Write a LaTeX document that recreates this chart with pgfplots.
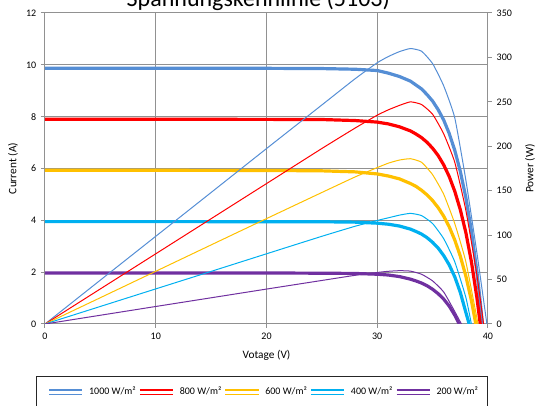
\documentclass[border=0pt]{standalone}
\usepackage{fontspec}
\setmainfont{Carlito}
\usepackage{pgfplots}
\usepackage{pgfplotstable}
\pgfplotsset{compat=1.18}
\definecolor{cB}{RGB}{85,142,213}
\definecolor{cR}{RGB}{255,0,0}
\definecolor{cY}{RGB}{255,192,0}
\definecolor{cC}{RGB}{0,176,240}
\definecolor{cP}{RGB}{112,48,160}
\definecolor{gridc}{RGB}{145,145,145}

% current tables (V, I)
\pgfplotstableread{
V I
0 9.87
10 9.87
20 9.865
25 9.856
28 9.83
30 9.78
31 9.68
32 9.55
33 9.37
33.5 9.22
34 9.07
34.5 8.85
35 8.60
35.5 8.27
36 7.87
36.5 7.35
37 6.70
37.5 5.89
38 4.88
38.5 3.60
39 2.01
39.25 1.06
39.5 0
}\IBlue
\pgfplotstableread{
V I
0 7.90
10 7.90
20 7.895
25 7.89
28 7.85
30 7.79
31 7.72
32 7.61
33 7.45
33.5 7.33
34 7.19
34.5 7.01
35 6.78
35.5 6.50
36 6.14
36.5 5.69
37 5.12
37.5 4.41
38 3.53
38.5 2.41
39 1.01
39.3 0
}\IRed
\pgfplotstableread{
V I
0 5.93
10 5.93
20 5.925
25 5.91
28 5.87
30 5.79
31 5.71
32 5.60
33 5.42
33.5 5.31
34 5.16
34.5 4.98
35 4.76
35.5 4.49
36 4.16
36.5 3.75
37 3.24
37.5 2.62
38 1.85
38.5 0.91
38.9 0
}\IYel
\pgfplotstableread{
V I
0 3.95
10 3.95
20 3.948
25 3.945
28 3.93
30 3.89
31 3.85
32 3.78
33 3.66
33.5 3.57
34 3.47
34.5 3.33
35 3.15
35.5 2.93
36 2.64
36.5 2.28
37 1.82
37.5 1.22
38 0.45
38.3 0
}\ICya
\pgfplotstableread{
V I
0 1.97
10 1.97
20 1.968
25 1.96
28 1.95
30 1.92
31 1.89
32 1.83
33 1.73
33.5 1.66
34 1.58
34.5 1.475
35 1.34
35.5 1.17
36 0.96
36.5 0.69
37 0.34
37.4 0
}\IPur

% power tables (V, P)
\pgfplotstableread{
V P
0 0
5 49.4
10 98.7
15 148
20 197.4
25 246.5
28 276
30 294
31 301
32 306.5
33 310
34 307
35 293
36 268
37 232
38 162
39 80
39.9 0
}\PBlue
\pgfplotstableread{
V P
0 0
5 39.5
10 79
15 118.5
20 158
25 197.5
28 220.5
30 235
31 241
32 246
33 250
34 247
35 236
36 214
37 182
38 128
39 55
39.6 0
}\PRed
\pgfplotstableread{
V P
0 0
5 29.6
10 59.3
15 89
20 118.6
25 148
28 165.5
30 176
31 181
32 184.5
33 186
34 182
35 168
36 146
37 113
38 70
39.1 0
}\PYel
\pgfplotstableread{
V P
0 0
5 19.75
10 39.5
15 59.2
20 79
25 98.7
28 110
30 116.5
31 119.5
32 122.5
33 124.5
34 122
35 113
36 96
37 70
38 30
38.5 0
}\PCya
\pgfplotstableread{
V P
0 0
5 9.85
10 19.7
15 29.5
20 39.3
25 49
28 54.8
30 58
31 59.3
32 60
33 59.5
34 56
35 48.5
36 36
37 14
37.6 0
}\PPur

\begin{document}
\begin{tikzpicture}
\pgfplotsset{
  common/.style={
    width=332.25pt, height=233.25pt, scale only axis,
    xmin=0, xmax=40,
    axis line style={draw=gridc, line width=0.75pt},
    tick style={draw=gridc, line width=0.75pt},
    tick align=outside, major tick length=3pt,
    tick label style={font=\fontsize{7.5}{9}\selectfont},
    /pgf/number format/assume math mode=true,
    label style={font=\fontsize{8.5}{10}\selectfont},
  }
}
\begin{axis}[common,
  ymin=0, ymax=12,
  xtick={0,10,20,30,40}, ytick={0,2,...,12},
  xtick pos=bottom, ytick pos=left,
  grid=major, major grid style={draw=gridc, line width=0.75pt},
  xlabel={Votage (V)}, ylabel={Current (A)},
  xlabel style={at={(axis description cs:0.5,-0.1)}, anchor=center},
  ylabel style={at={(axis description cs:-0.072,0.5)}, anchor=center},
  legend columns=5,
  legend style={at={(0.495,-0.219)}, anchor=center, draw=none, fill=none,
    font=\fontsize{7.5}{9}\selectfont,
    /tikz/every odd column/.append style={column sep=2pt}},
  legend image code/.code={
    \draw[#1, line width=2pt] (0pt,1.6pt) -- (25pt,1.6pt);
    \draw[#1, line width=0.6pt] (0pt,-1.5pt) -- (25pt,-1.5pt);
  },
  every axis plot/.append style={line width=2.4pt, line join=round},
]
\addplot[cB, no marks] table[x=V, y=I] {\IBlue};
\addlegendentry{1000 W/m²}
\addplot[cR, no marks] table[x=V, y=I] {\IRed};
\addlegendentry{800 W/m²}
\addplot[cY, no marks] table[x=V, y=I] {\IYel};
\addlegendentry{600 W/m²}
\addplot[cC, no marks] table[x=V, y=I] {\ICya};
\addlegendentry{400 W/m²}
\addplot[cP, no marks] table[x=V, y=I] {\IPur};
\addlegendentry{200 W/m²}
\end{axis}
\begin{axis}[common,
  ymin=0, ymax=350,
  axis x line=none, axis y line*=right,
  ytick={0,50,...,350},
  ylabel={Power (W)},
  ylabel style={at={(axis description cs:1.095,0.5)}, anchor=center, rotate=0},
  every axis plot/.append style={line width=0.75pt, line join=round},
]
\addplot[cB, no marks, smooth, tension=0.3] table[x=V, y=P] {\PBlue};
\addplot[cR, no marks, smooth, tension=0.3] table[x=V, y=P] {\PRed};
\addplot[cY, no marks, smooth, tension=0.3] table[x=V, y=P] {\PYel};
\addplot[cC, no marks, smooth, tension=0.3] table[x=V, y=P] {\PCya};
\addplot[cP, no marks, smooth, tension=0.3] table[x=V, y=P] {\PPur};
\end{axis}
\node[anchor=base, inner sep=0pt, font=\fontsize{18}{20}\selectfont] at (160pt,238pt) {Spannungskennlinie (5103)};
\draw[line width=0.75pt, black!85] (-6pt,-70pt) -- (-6pt,-39.75pt) -- (331.5pt,-39.75pt) -- (331.5pt,-70pt);
\pgfresetboundingbox
\path[use as bounding box] (-33.75pt,-61.5pt) rectangle (368.25pt,243pt);
\end{tikzpicture}
\end{document}
